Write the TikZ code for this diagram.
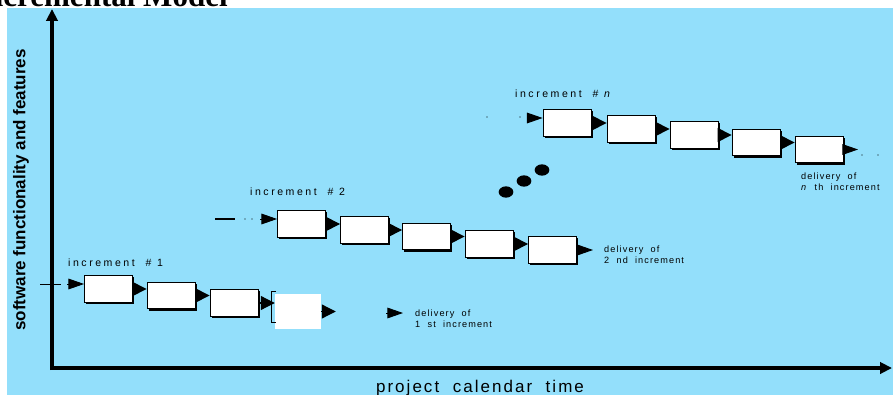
\documentclass[tikz,border=0pt]{standalone}
\usepackage{fontspec}
\setmainfont{Liberation Sans}
\newfontfamily\titlefont{Liberation Serif}
\newfontfamily\widefont{Liberation Sans}[LetterSpace=12]
\newfontfamily\tagfont{Liberation Sans}[LetterSpace=24]
\usepackage{tikz}
\usetikzlibrary{arrows.meta,shadows,calc}

\definecolor{skyblue}{RGB}{147,223,251}

\tikzset{
  stage/.style={draw=black, line width=0.7pt, fill=white, minimum width=1.44cm, minimum height=0.8cm, inner sep=0pt,
    drop shadow={shadow xshift=0.05cm, shadow yshift=-0.05cm, fill=black, opacity=1}},
  cutstage/.style={fill=white, minimum width=1.38cm, minimum height=1.05cm, inner sep=0pt},
  ghost/.style={minimum width=1.5cm, minimum height=0.8cm, inner sep=0pt},
  hop/.style={-{Triangle[length=0.42cm,width=0.42cm]}, line width=1pt},
  lead/.style={-{Triangle[length=0.47cm,width=0.32cm]}, line width=0.8pt},
  axisline/.style={line width=0.12cm, -{Triangle[length=0.36cm,width=0.34cm]}},
  tag/.style={font=\tagfont\fontsize{9}{10}\selectfont, inner sep=0pt},
  note/.style={font=\widefont\fontsize{7.8}{9}\selectfont, align=left, inner sep=0pt},
}

\begin{document}
\begin{tikzpicture}[x=0.03cm, y=-0.03cm]
\useasboundingbox (0,0) rectangle (893,395);
\clip (0,0) rectangle (893,395);
\node[anchor=base east, inner sep=0pt, font=\titlefont\bfseries\fontsize{26.5}{30}\selectfont] (title) at (228,6.5) {Incremental Model};
\fill[skyblue] (7,8) rectangle (893,395);

\draw[axisline] (52,370) -- (52,9);
\draw[axisline] (50,368) -- (892,368);
\node[rotate=90, font=\bfseries\fontsize{14.5}{16}\selectfont] (ylab) at (21,190) {software functionality and features};
\node[anchor=base, font=\widefont\fontsize{14.5}{16}\selectfont] (xlab) at (480,392.5) {project\ \ calendar\ \ time};

\node[stage] (a1) at (108.5,289) {};
\node[stage] (a2) at (171,295.5) {};
\node[stage] (a3) at (234,303) {};
\node[cutstage] (a4) at (298,311.5) {};
\node[ghost] (a5) at (361,313) {};
\draw[line width=1pt] ($(a4.north west)+(1,-2)$) -- ($(a4.north west)+(-3,-2)$) -- ($(a4.south west)+(-3,-7)$) -- ($(a4.south west)+(1,-7)$);
\draw[line width=0.8pt] (40,284) -- (61,284);
\coordinate (e1) at (67,284);
\draw[lead] (e1) -- (e1 -| a1.west);
\foreach \p/\q in {a1/a2,a2/a3,a3/a4,a4/a5}
  \draw[hop] (\p.east) -- (\p.east -| \q.west);
\node[tag, anchor=base west] (l1) at (68,266) {increment\ \ \# 1};
\node[note, anchor=west] (d1) at (415,319) {delivery\ \ of\\1\ \ st\ \ increment};
\draw[lead, shorten >=0.36cm] (a5.east) -- (a5.east -| d1.west);

\node[stage] (b1) at (301.5,224) {};
\node[stage] (b2) at (364.5,230) {};
\node[stage] (b3) at (426.5,236.5) {};
\node[stage] (b4) at (489,244) {};
\node[stage] (b5) at (552.5,250) {};
\draw[line width=1.4pt] (215,219) -- (235,219);
\fill (245,219) circle (0.6) (252,219) circle (0.6);
\coordinate (e2) at (260,219);
\draw[lead] (e2) -- (e2 -| b1.west);
\foreach \p/\q in {b1/b2,b2/b3,b3/b4,b4/b5}
  \draw[hop] (\p.east) -- (\p.east -| \q.west);
\node[tag, anchor=base west] (l2) at (250,195) {increment\ \ \# 2};
\node[note, anchor=west] (d2) at (604,255) {delivery\ \ of\\2\ \ nd\ \ increment};
\draw[lead, shorten >=0.33cm] (b5.east) -- (b5.east -| d2.west);

\fill (506,192) ellipse [x radius=0.22cm, y radius=0.17cm];
\fill (524,181) ellipse [x radius=0.22cm, y radius=0.17cm];
\fill (542,170) ellipse [x radius=0.22cm, y radius=0.17cm];

\node[stage] (c1) at (567,123) {};
\node[stage] (c2) at (631,129) {};
\node[stage] (c3) at (694,135) {};
\node[stage] (c4) at (756,142.5) {};
\node[stage] (c5) at (819,149.5) {};
\fill (487,117) circle (0.6) (520,117) circle (0.6);
\coordinate (e3) at (527,118);
\draw[lead] (e3) -- (e3 -| c1.west);
\foreach \p/\q in {c1/c2,c2/c3,c3/c4,c4/c5}
  \draw[hop] (\p.east) -- (\p.east -| \q.west);
\coordinate (cend) at (858,149.5);
\draw[lead] (c5.east) -- (cend);
\fill (862,155) circle (0.6) (878,155) circle (0.6);
\node[tag, anchor=base west] (ln) at (515,97.3) {increment\ \ \# \textit{n}};
\node[note, anchor=west] (dn) at (801,182) {delivery\ \ of\\\textit{n}\ \ th\ \ increment};
\end{tikzpicture}
\end{document}
